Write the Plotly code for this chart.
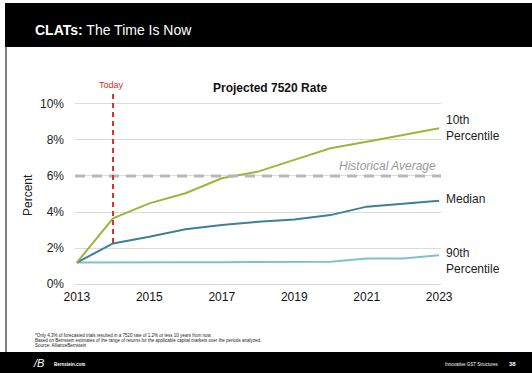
import plotly.graph_objects as go

# data
years = list(range(2013, 2024))
p10 = [1.2, 3.65, 4.48, 5.04, 5.87, 6.24, 6.89, 7.54, 7.9, 8.28, 8.65]
median = [1.2, 2.26, 2.63, 3.04, 3.28, 3.46, 3.59, 3.83, 4.3, 4.48, 4.63]
p90 = [1.2, 1.22, 1.22, 1.22, 1.22, 1.22, 1.22, 1.24, 1.43, 1.43, 1.61]
hist_avg = 6
today = 2014
x_ticks = [2013, 2015, 2017, 2019, 2021, 2023]
y_ticks = [0, 2, 4, 6, 8, 10]
y_labels = ["0%", "2%", "4%", "6%", "8%", "10%"]

W, H = 532, 373
L, R, T, B = 75, 91, 102, 87
pw, ph = W - L - R, H - T - B

def px(x):
    return (x - L) / pw

def py(y):
    return (H - B - y) / ph

font = "Liberation Sans, Arial, sans-serif"
GREEN = "#9cb63a"
TEAL = "#3f7f98"
LIGHT = "#7fc1d3"

fig = go.Figure()
fig.add_trace(go.Scatter(x=years, y=p90, mode="lines", line=dict(color=LIGHT, width=2)))
fig.add_trace(go.Scatter(x=years, y=median, mode="lines", line=dict(color=TEAL, width=2)))
fig.add_trace(go.Scatter(x=years, y=p10, mode="lines", line=dict(color=GREEN, width=2)))

shapes = [
    # slide header / footer / frame
    dict(type="rect", xref="paper", yref="paper", x0=px(5), x1=px(532), y0=py(3), y1=py(47),
         fillcolor="black", line=dict(width=0), layer="below"),
    dict(type="rect", xref="paper", yref="paper", x0=px(0), x1=px(532), y0=py(352), y1=py(373),
         fillcolor="black", line=dict(width=0), layer="below"),
    dict(type="line", xref="paper", yref="paper", x0=px(6), x1=px(6), y0=py(47), y1=py(352),
         line=dict(color="#555", width=1.5)),
    # historical average
    dict(type="line", xref="paper", yref="y", x0=0, x1=1, y0=hist_avg, y1=hist_avg,
         line=dict(color="#b8b8b8", width=3, dash="10px,7px")),
    # today marker
    dict(type="line", xref="x", yref="paper", x0=today, x1=today, y0=py(243), y1=py(91),
         line=dict(color="#d0312d", width=2, dash="5px,4px")),
]

ann = []
def text(x, y, s, size, color="#222", xanchor="left", **kw):
    ann.append(dict(xref="paper", yref="paper", x=px(x), y=py(y), text=s, showarrow=False,
                    xanchor=xanchor, yanchor="middle", align="left",
                    font=dict(family=font, size=size, color=color), **kw))

text(33, 30, "<b>CLATs:</b> The Time Is Now", 14, "white")
text(270, 88, "<b>Projected 7520 Rate</b>", 12, "#111", "center")
text(111, 85, "Today", 9, "#d0312d", "center")
text(438, 166, "<i>Historical Average</i>", 12, "#9a9a9a", "right")
text(444, 128, "10th<br>Percentile", 12)
text(444, 199, "Median", 12)
text(444, 261, "90th<br>Percentile", 12)
text(28, 195, "Percent", 12, "#222", "center", textangle=-90)
text(33, 335, "*Only 4.3% of forecasted trials resulted in a 7520 rate of 1.2% or less 10 years from now.", 4.5)
text(33, 340, "Based on Bernstein estimates of the range of returns for the applicable capital markets over the periods analyzed.", 4.5)
text(33, 345, "Source: AllianceBernstein", 4.5)
text(31, 363, "<i>/B</i>", 11, "white")
text(52, 364, "<b>Bernstein.com</b>", 4.5, "white")
text(443, 364, "Innovative GST Structures", 4.5, "white")
text(507, 364, "<b>38</b>", 6, "white")

fig.update_layout(
    width=W, height=H, showlegend=False,
    margin=dict(l=L, r=R, t=T, b=B),
    paper_bgcolor="white", plot_bgcolor="white",
    font=dict(family=font, size=12, color="#222"),
    shapes=shapes, annotations=ann,
    xaxis=dict(range=[2012.95, 2023.05], tickvals=x_ticks, showgrid=False, zeroline=False,
               ticks="", tickfont=dict(size=12, color="#111"), ticklabelstandoff=2),
    yaxis=dict(range=[-0.1, 10.1], tickvals=y_ticks, ticktext=y_labels, showgrid=True,
               gridcolor="#dcdcdc", gridwidth=1, zeroline=False, ticks="",
               tickfont=dict(size=12, color="#222"), ticklabelstandoff=10),
)

fig.write_html("out.html", config={"displayModeBar": False},
               post_script="document.body.style.margin='0';")
